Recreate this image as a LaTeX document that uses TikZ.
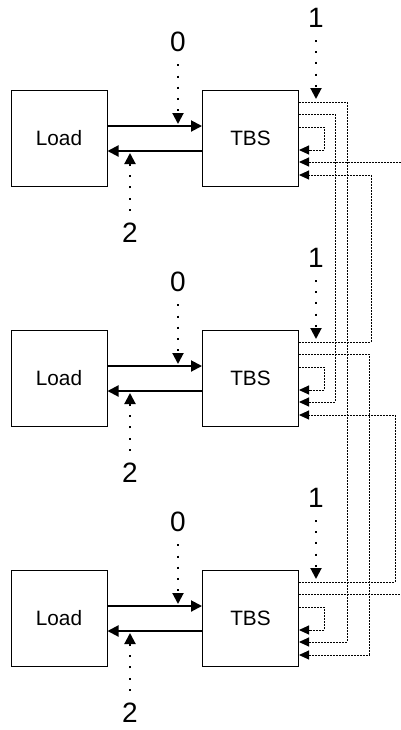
\documentclass[tikz,border=0pt]{standalone}
\usepackage{fontspec}
\setmainfont{Liberation Sans}
\usetikzlibrary{arrows.meta}

\tikzset{
	box/.style={draw, line width=0.5pt, minimum width=48pt, minimum height=48pt, inner sep=0pt, font=\fontsize{10.4}{12}\selectfont},
	num/.style={inner sep=0pt, font=\fontsize{14}{16}\selectfont},
	main/.style={line width=1pt, -{Triangle[length=5.5pt,width=5.5pt]}},
	tag/.style={line width=1pt, dash pattern=on 1pt off 4.6pt, -{Triangle[length=5.5pt,width=5.5pt]}},
	link/.style={line width=0.5pt, dash pattern=on 1pt off 0.5pt, -{Triangle[length=5pt,width=4.5pt]}},
	plain/.style={line width=0.5pt, dash pattern=on 1pt off 0.5pt}
}

\begin{document}
\begin{tikzpicture}[x=0.5pt, y=-0.5pt]
	\useasboundingbox (0,0) rectangle (401,730);
	% three rows, Load on the left, TBS on the right
	\node[box] (load1) at (59,138) {Load};
	\node[box] (tbs1) at (250.5,138) {TBS};
	\node[box] (load2) at (59,378) {Load};
	\node[box] (tbs2) at (250.5,378) {TBS};
	\node[box] (load3) at (59,618) {Load};
	\node[box] (tbs3) at (250.5,618) {TBS};

	\draw[main] ([yshift=6pt]load1.east) -- ([yshift=6pt]tbs1.west);
	\draw[main] ([yshift=-6.5pt]tbs1.west) -- ([yshift=-6.5pt]load1.east);
	\draw[main] ([yshift=6pt]load2.east) -- ([yshift=6pt]tbs2.west);
	\draw[main] ([yshift=-6.5pt]tbs2.west) -- ([yshift=-6.5pt]load2.east);
	\draw[main] ([yshift=6pt]load3.east) -- ([yshift=6pt]tbs3.west);
	\draw[main] ([yshift=-6.5pt]tbs3.west) -- ([yshift=-6.5pt]load3.east);

	% numbered markers
	\node[num] (zero1) at (178,42) {0};
	\node[num] (one1) at (316,18) {1};
	\node[num] (two1) at (130,233) {2};
	\node[num] (zero2) at (178,282) {0};
	\node[num] (one2) at (316,258) {1};
	\node[num] (two2) at (130,473) {2};
	\node[num] (zero3) at (178,522) {0};
	\node[num] (one3) at (316,498) {1};
	\node[num] (two3) at (130,713) {2};
	\coordinate (z1) at (178,124); \coordinate (o1) at (316,99); \coordinate (w1) at (130,153);
	\coordinate (z2) at (178,364); \coordinate (o2) at (316,339); \coordinate (w2) at (130,393);
	\coordinate (z3) at (178,604); \coordinate (o3) at (316,579); \coordinate (w3) at (130,633);
	\foreach \i in {1,2,3} {
		\draw[tag, shorten <=6pt] (zero\i.south) -- (z\i);
		\draw[tag, shorten <=6pt] (one\i.south) -- (o\i);
		\draw[tag, shorten <=6pt] (two\i.north) -- (w\i);
		\draw[link] ([yshift=5.5pt]tbs\i.east) -- ++(12.5pt,0) |- ([yshift=-6pt]tbs\i.east);
	}

	% links between the TBS blocks
	\coordinate (ext1) at (401,162);
	\coordinate (ext3) at (401,594);
	\draw[link] (ext1) -- ([yshift=-12pt]tbs1.east);
	\draw[link] ([yshift=18pt]tbs1.east) -- ++(24pt,0) |- ([yshift=-12pt]tbs3.east);
	\draw[link] ([yshift=12pt]tbs1.east) -- ++(18pt,0) |- ([yshift=-12pt]tbs2.east);
	\draw[link] ([yshift=18pt]tbs2.east) -- ++(36pt,0) |- ([yshift=-18.5pt]tbs1.east);
	\draw[link] ([yshift=12pt]tbs2.east) -- ++(35pt,0) |- ([yshift=-18.5pt]tbs3.east);
	\draw[link] ([yshift=18pt]tbs3.east) -- ++(48pt,0) |- ([yshift=-18.5pt]tbs2.east);
	\draw[plain] ([yshift=12pt]tbs3.east) -- (ext3);
\end{tikzpicture}
\end{document}
